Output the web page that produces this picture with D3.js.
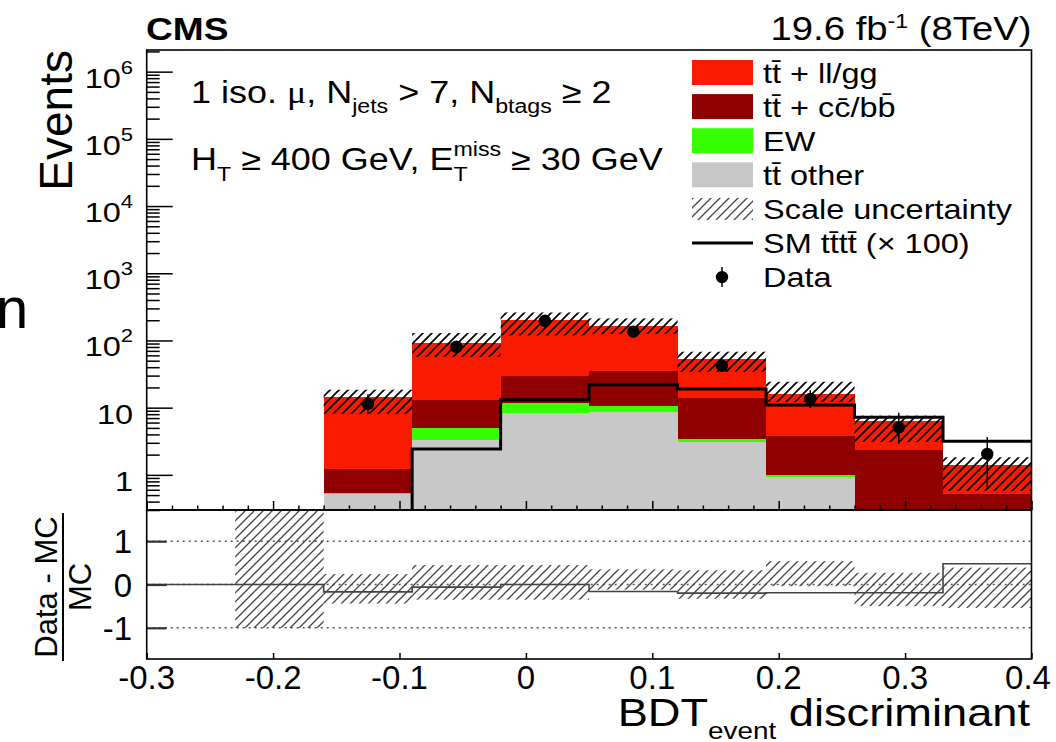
<!DOCTYPE html>
<html><head><meta charset="utf-8">
<script src="https://cdn.jsdelivr.net/npm/d3@7"></script>
<style>
body{margin:0;background:#fff}
svg{display:block}
text{font-family:"Liberation Sans",Arial,Helvetica,sans-serif;fill:#000}
</style>
</head><body>
<svg id="c" width="1056" height="742"></svg>
<script>
// ---------------- data ----------------
const binEdges = [-0.3,-0.23,-0.16,-0.09,-0.02,0.05,0.12,0.19,0.26,0.33,0.4];
const ttOther  = [0, 0.05, 0.52, 3.31, 8.34, 8.5, 3.06, 0.92, 0, 0];
const ewVals   = [0, 0, 0.01, 1.63, 3.26, 2.0, 0.37, 0.08, 0, 0];
const ttCCBB   = [0, 0, 0.71, 8.16, 18.3, 24.3, 10.4, 2.84, 2.38, 0.52];
const ttLLGG   = [0, 0, 13.1, 77.5, 171, 127, 39.2, 12.2, 4.0, 0.9];
const scaleHi  = [null, null, 18.5, 129, 261, 213, 68, 24.3, 7.6, 1.83];
const scaleLo  = [null, null, 8.1, 57, 119, 125, 34, 12.2, 3.1, 0.58];
const tttt100  = [0, 0, 0, 2.43, 13.1, 22, 19, 11, 7.2, 3.17];
const dataVals = [null, null, 11.4, 80.6, 196, 135, 42, 13.5, 5.1, 2.05];
const dataErrLo= [null, null, 3.3, 8.9, 14, 11.6, 6.4, 3.6, 2.2, 1.43];
const dataErrHi= [null, null, 4.4, 10, 15, 12.6, 7.5, 4.7, 3.3, 1.6];
const ratioVals= [0, 0, -0.17, -0.06, 0, -0.16, -0.2, -0.19, -0.19, 0.48];
const ratioUp  = [null, 3, 0.24, 0.45, 0.45, 0.35, 0.33, 0.54, 0.27, 0.39];
const ratioDn  = [null, -1.0, -0.44, -0.35, -0.35, -0.12, -0.33, -0.04, -0.5, -0.54];
const xTicks   = [-0.3,-0.2,-0.1,0,0.1,0.2,0.3,0.4];
const xTickLabels = ["-0.3","-0.2","-0.1","0","0.1","0.2","0.3","0.4"];
const yDecades = [1,10,100,1e3,1e4,1e5,1e6];
const yDecadeLabels = [["1",""],["10",""],["10","2"],["10","3"],["10","4"],["10","5"],["10","6"]];
const ratioTicks = [1,0,-1];
const ratioTickLabels = ["1","0","-1"];
const legendLabels = ["tt\u0304 + ll/gg","tt\u0304 + cc\u0304/bb\u0304","EW","tt\u0304 other","Scale uncertainty","SM tt\u0304tt\u0304 (\u00d7 100)","Data"];
const colors = {ttLLGG:"#f91a00", ttCCBB:"#8f0000", ew:"#36ff00", ttOther:"#c8c8c8"};

// ---------------- layout ----------------
const SX = 1.16;
const L = 146.7, R = 1031.5, T = 50, MB = 510, RB = 659;
const svg = d3.select("#c");
const x = d3.scaleLinear().domain([-0.3,0.4]).range([L,R]);
const y = d3.scaleLog().domain([0.3,2.1e6]).range([MB,T]);
const yr = d3.scaleLinear().domain([-1.72,1.72]).range([RB,MB]);
const ys = v => Math.min(MB+2, y(Math.max(v,1e-4)));

const defs = svg.append("defs");
defs.append("clipPath").attr("id","clipMain").append("rect").attr("x",L).attr("y",T).attr("width",R-L).attr("height",MB-T);
defs.append("clipPath").attr("id","clipRatio").append("rect").attr("x",L).attr("y",MB).attr("width",R-L).attr("height",RB-MB);
function hatch(id, color, w){
  const p = defs.append("pattern").attr("id",id).attr("patternUnits","userSpaceOnUse").attr("width",9).attr("height",9);
  p.append("path").attr("d","M-1,10 L10,-1 M-3,3 L3,-3 M6,12 L12,6").attr("stroke",color).attr("stroke-width",w).attr("fill","none");
}
hatch("hMain","#000",1.7);
hatch("hRatio","#444",1.3);

function stext(px, py, size, anchor, weight, sx){
  const g = svg.append("g").attr("transform",`translate(${px},${py}) scale(${sx==null?SX:sx},1)`);
  return g.append("text").attr("font-size",size).attr("text-anchor",anchor||"start").attr("font-weight",weight||"normal");
}

// ---------------- main panel ----------------
const main = svg.append("g").attr("clip-path","url(#clipMain)");
const rows = ttOther.map((_,i)=>({ttOther:ttOther[i], ew:ewVals[i], ttCCBB:ttCCBB[i], ttLLGG:ttLLGG[i]}));
const stacked = d3.stack().keys(["ttOther","ew","ttCCBB","ttLLGG"])(rows);
stacked.forEach(s=>{
  main.append("g").selectAll("rect").data(s.map((d,i)=>({d,i})).filter(o=>o.d[1]-o.d[0]>0))
    .join("rect")
    .attr("x",o=>x(binEdges[o.i])).attr("width",o=>x(binEdges[o.i+1])-x(binEdges[o.i]))
    .attr("y",o=>ys(o.d[1])).attr("height",o=>ys(o.d[0])-ys(o.d[1]))
    .attr("fill",colors[s.key]).attr("shape-rendering","crispEdges");
});
// scale uncertainty hatch
main.append("g").selectAll("rect").data(scaleHi.map((h,i)=>({h,l:scaleLo[i],i})).filter(o=>o.h!=null))
  .join("rect")
  .attr("x",o=>x(binEdges[o.i])).attr("width",o=>x(binEdges[o.i+1])-x(binEdges[o.i]))
  .attr("y",o=>ys(o.h)).attr("height",o=>ys(o.l)-ys(o.h)).attr("fill","url(#hMain)");
// tttt x100 step line
{
  const first = tttt100.findIndex(v=>v>0);
  let p = d3.path();
  p.moveTo(x(binEdges[first]), MB+2);
  for(let i=first;i<tttt100.length;i++){
    p.lineTo(x(binEdges[i]), ys(tttt100[i]));
    p.lineTo(x(binEdges[i+1]), ys(tttt100[i]));
  }
  main.append("path").attr("d",p.toString()).attr("fill","none").attr("stroke","#000").attr("stroke-width",3);
}
// data points
const dpts = dataVals.map((v,i)=>({v,i})).filter(o=>o.v!=null);
const ctr = i => x((binEdges[i]+binEdges[i+1])/2);
main.append("g").selectAll("line").data(dpts).join("line")
  .attr("x1",o=>ctr(o.i)).attr("x2",o=>ctr(o.i))
  .attr("y1",o=>ys(o.v+dataErrHi[o.i])).attr("y2",o=>ys(o.v-dataErrLo[o.i]))
  .attr("stroke","#000").attr("stroke-width",1.5);
main.append("g").selectAll("circle").data(dpts).join("circle")
  .attr("cx",o=>ctr(o.i)).attr("cy",o=>ys(o.v)).attr("r",6.2).attr("fill","#000");

// main axes ticks
const minors = [];
for(let e=-1;e<=6;e++) for(let k=2;k<=9;k++){ const v=k*Math.pow(10,e); if(v>=0.3 && v<=2.1e6) minors.push(v); }
function styleAxis(g){ g.select(".domain").remove(); g.selectAll("text").remove(); g.selectAll("line").attr("stroke","#000").attr("stroke-width",1.5); }
svg.append("g").attr("transform",`translate(${L},0)`).call(d3.axisLeft(y).tickValues(yDecades).tickSize(-26)).call(styleAxis);
svg.append("g").attr("transform",`translate(${L},0)`).call(d3.axisLeft(y).tickValues(minors).tickSize(-13)).call(styleAxis);
const xMinors = d3.range(-0.3,0.4001,0.02).map(v=>+v.toFixed(2)).filter(v=>!xTicks.some(t=>Math.abs(t-v)<1e-6));
svg.append("g").attr("transform",`translate(0,${MB})`).call(d3.axisBottom(x).tickValues(xTicks).tickSize(-9)).call(styleAxis);
svg.append("g").attr("transform",`translate(0,${MB})`).call(d3.axisBottom(x).tickValues(xMinors).tickSize(-4.5)).call(styleAxis);

// main y labels
yDecades.forEach((v,i)=>{
  const [b,s] = yDecadeLabels[i];
  const t = stext(133, y(v)+16, 28, "end");
  t.append("tspan").text(b);
  if(s) t.append("tspan").text(s).attr("font-size",19).attr("dy",-14);
});

// ---------------- ratio panel ----------------
const rat = svg.append("g").attr("clip-path","url(#clipRatio)");
ratioTicks.forEach(v=>{
  rat.append("line").attr("x1",L).attr("x2",R).attr("y1",yr(v)).attr("y2",yr(v))
    .attr("stroke","#555").attr("stroke-width",1.5).attr("stroke-dasharray","2,4");
});
rat.append("g").selectAll("rect").data(ratioUp.map((u,i)=>({u,d:ratioDn[i],i})).filter(o=>o.u!=null))
  .join("rect")
  .attr("x",o=>x(binEdges[o.i])).attr("width",o=>x(binEdges[o.i+1])-x(binEdges[o.i]))
  .attr("y",o=>yr(Math.min(o.u,1.8))).attr("height",o=>yr(o.d)-yr(Math.min(o.u,1.8)))
  .attr("fill","url(#hRatio)");
{
  let p = d3.path();
  p.moveTo(x(binEdges[0]), yr(ratioVals[0]));
  ratioVals.forEach((v,i)=>{ p.lineTo(x(binEdges[i]), yr(v)); p.lineTo(x(binEdges[i+1]), yr(v)); });
  rat.append("path").attr("d",p.toString()).attr("fill","none").attr("stroke","#444").attr("stroke-width",1.6);
}
svg.append("g").attr("transform",`translate(${L},0)`).call(d3.axisLeft(yr).tickValues(ratioTicks).tickSize(-20))
  .call(styleAxis).call(g=>g.selectAll("line").attr("stroke","#333").attr("stroke-width",2.2));
svg.append("g").attr("transform",`translate(0,${RB})`).call(d3.axisBottom(x).tickValues(xTicks).tickSize(-6)).call(styleAxis);
ratioTicks.forEach((v,i)=>{ stext(132, yr(v)+12, 33, "end", "normal", 1).text(ratioTickLabels[i]); });
xTicks.forEach((v,i)=>{ stext(Math.min(x(v),1028), 689, 33, "middle", "normal", 1).text(xTickLabels[i]); });

// frames
svg.append("rect").attr("x",L).attr("y",T).attr("width",R-L).attr("height",MB-T).attr("fill","none").attr("stroke","#000").attr("stroke-width",1.6);
svg.append("rect").attr("x",L).attr("y",MB).attr("width",R-L).attr("height",RB-MB).attr("fill","none").attr("stroke","#000").attr("stroke-width",1.6);

// ---------------- titles ----------------
stext(146, 40, 32, "start", "bold").text("CMS");
{
  const t = stext(1031.5, 39.5, 33, "end");
  t.append("tspan").text("19.6 fb");
  t.append("tspan").text("-1").attr("font-size",20).attr("dy",-12);
  t.append("tspan").text(" (8TeV)").attr("dy",12);
}
svg.append("text").attr("transform","translate(72,50) rotate(-90)").attr("text-anchor","end").attr("font-size",46).text("Events");
svg.append("text").attr("transform","translate(57,587) rotate(-90)").attr("text-anchor","middle").attr("font-size",31).text("Data - MC");
svg.append("line").attr("x1",63).attr("x2",63).attr("y1",513).attr("y2",661).attr("stroke","#000").attr("stroke-width",2);
svg.append("text").attr("transform","translate(91,587) rotate(-90)").attr("text-anchor","middle").attr("font-size",31).text("MC");
{
  const t = stext(1030, 726, 39, "end");
  t.append("tspan").text("BDT");
  t.append("tspan").text("event").attr("font-size",24).attr("dy",13);
  t.append("tspan").text(" discriminant").attr("dy",-13);
}
// annotation row 1
{
  const t = stext(191, 103, 31, "start");
  t.append("tspan").text("1 iso. ");
  t.append("tspan").text("\u03bc").attr("font-family","Liberation Serif, Times New Roman, serif");
  t.append("tspan").text(", N");
  t.append("tspan").text("jets").attr("font-size",20).attr("dy",10);
  t.append("tspan").text(" > 7, N").attr("dy",-10);
  t.append("tspan").text("btags").attr("font-size",20).attr("dy",10);
  t.append("tspan").text(" \u2265 2").attr("dy",-10);
}
// annotation row 2
{
  const t = stext(191, 170, 31, "start");
  t.append("tspan").text("H");
  t.append("tspan").text("T").attr("font-size",20).attr("dy",11);
  t.append("tspan").text(" \u2265 400 GeV, E").attr("dy",-11);
  const miss = t.append("tspan").text("miss").attr("font-size",20).attr("dy",-14);
  const wm = miss.node().getComputedTextLength();
  const tt = t.append("tspan").text("T").attr("font-size",20).attr("dy",25).attr("dx",-wm);
  const wt = tt.node().getComputedTextLength();
  t.append("tspan").text(" \u2265 30 GeV").attr("dy",-11).attr("dx",wm-wt);
}

// ---------------- legend ----------------
const lg = svg.append("g");
const rowY = i => 72.5 + 34.1*i;
const fills = [colors.ttLLGG, colors.ttCCBB, colors.ew, colors.ttOther];
fills.forEach((c,i)=>{ lg.append("rect").attr("x",692).attr("y",rowY(i)-12.5).attr("width",61).attr("height",25).attr("fill",c); });
lg.append("rect").attr("x",692).attr("y",rowY(4)-11).attr("width",61).attr("height",22).attr("fill","url(#hRatio)");
lg.append("line").attr("x1",692).attr("x2",753).attr("y1",rowY(5)).attr("y2",rowY(5)).attr("stroke","#000").attr("stroke-width",3);
lg.append("line").attr("x1",722).attr("x2",722).attr("y1",rowY(6)-10).attr("y2",rowY(6)+10).attr("stroke","#000").attr("stroke-width",1.5);
lg.append("circle").attr("cx",722).attr("cy",rowY(6)).attr("r",6.2).attr("fill","#000");
legendLabels.forEach((s,i)=>{ stext(763, rowY(i)+10, 28, "start").text(s); });

// cropped page text at the left edge
svg.append("text").attr("x",-4).attr("y",328).attr("font-size",58).attr("font-family","Liberation Serif, Times New Roman, serif").text("n");
</script>
</body></html>
